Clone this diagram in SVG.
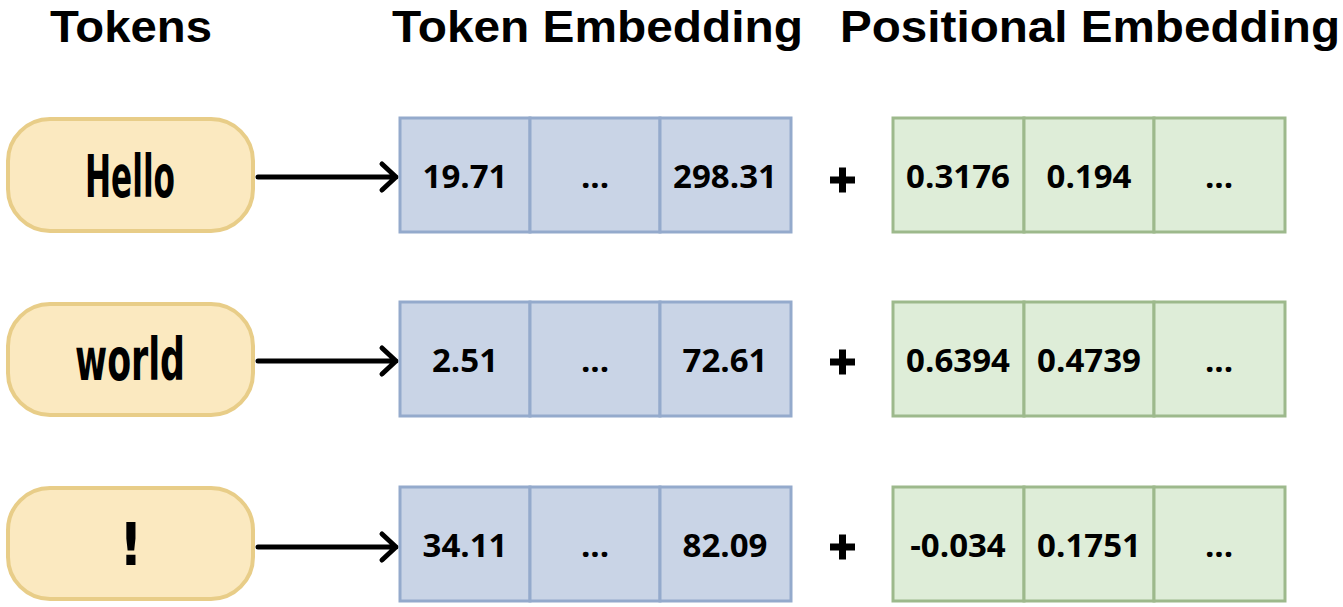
<svg xmlns="http://www.w3.org/2000/svg" width="1343" height="607" viewBox="0 0 1343 607">
<defs>
<style>
.hdr{font-family:"Liberation Sans",Arial,sans-serif;font-weight:700;font-size:44px;fill:#000}
.tok{fill:#fbe9c0;stroke:#e8cd88;stroke-width:4}
.tt{font-family:"DejaVu Sans Condensed","DejaVu Sans",sans-serif;font-weight:700;font-size:58px;fill:#000;text-anchor:middle}
.blue{fill:#c9d4e6;stroke:#94aacc;stroke-width:3}
.green{fill:#deedd8;stroke:#9db98c;stroke-width:3}
.num{font-family:"Open Sans","Liberation Sans",sans-serif;font-weight:700;font-size:33px;fill:#000;text-anchor:middle}
.conn{stroke:#000;stroke-width:5;fill:none;stroke-linecap:round;stroke-linejoin:round}
.plus{stroke:#000;stroke-width:7}
</style>
</defs>
<rect width="1343" height="607" fill="#fff"/>
<g id="headers">
<text class="hdr" x="50" y="42" textLength="162" lengthAdjust="spacingAndGlyphs">Tokens</text>
<text class="hdr" x="392" y="42" textLength="411" lengthAdjust="spacingAndGlyphs">Token Embedding</text>
<text class="hdr" x="840" y="42" textLength="500" lengthAdjust="spacingAndGlyphs">Positional Embedding</text>
</g>
<g id="token-hello">
<rect class="tok" x="8" y="119" width="245" height="112" rx="42"/>
<text class="tt" x="130" y="197" textLength="90" lengthAdjust="spacingAndGlyphs">Hello</text>
</g>
<g id="token-world">
<rect class="tok" x="8" y="304" width="245" height="111" rx="42"/>
<text class="tt" x="130" y="380" textLength="110" lengthAdjust="spacingAndGlyphs">world</text>
</g>
<g id="token-excl">
<rect class="tok" x="8" y="488" width="245" height="111" rx="42"/>
<text class="tt" x="131" y="565">!</text>
</g>
<g id="connectors">
<path class="conn" d="M258 177 H396 M382 164 L396 177 L382 190"/>
<path class="conn" d="M258 361 H396 M382 348 L396 361 L382 374"/>
<path class="conn" d="M258 547 H396 M382 534 L396 547 L382 560"/>
</g>
<g id="tokemb-1">
<rect class="blue" x="400" y="118" width="130" height="114"/>
<rect class="blue" x="530" y="118" width="130" height="114"/>
<rect class="blue" x="660" y="118" width="131" height="114"/>
<text class="num" x="465" y="188">19.71</text>
<text class="num" x="595" y="188">...</text>
<text class="num" x="725" y="188">298.31</text>
</g>
<g id="tokemb-2">
<rect class="blue" x="400" y="302" width="130" height="114"/>
<rect class="blue" x="530" y="302" width="130" height="114"/>
<rect class="blue" x="660" y="302" width="131" height="114"/>
<text class="num" x="465" y="372">2.51</text>
<text class="num" x="595" y="372">...</text>
<text class="num" x="725" y="372">72.61</text>
</g>
<g id="tokemb-3">
<rect class="blue" x="400" y="487" width="130" height="114"/>
<rect class="blue" x="530" y="487" width="130" height="114"/>
<rect class="blue" x="660" y="487" width="131" height="114"/>
<text class="num" x="465" y="557">34.11</text>
<text class="num" x="595" y="557">...</text>
<text class="num" x="725" y="557">82.09</text>
</g>
<g id="plus-signs">
<path class="plus" d="M830 180 H855 M842.5 167.5 V192.5"/>
<path class="plus" d="M830 362 H855 M842.5 349.5 V374.5"/>
<path class="plus" d="M830 547 H855 M842.5 534.5 V559.5"/>
</g>
<g id="posemb-1">
<rect class="green" x="893" y="118" width="131" height="114"/>
<rect class="green" x="1024" y="118" width="130" height="114"/>
<rect class="green" x="1154" y="118" width="131" height="114"/>
<text class="num" x="958" y="188">0.3176</text>
<text class="num" x="1089" y="188">0.194</text>
<text class="num" x="1219" y="188">...</text>
</g>
<g id="posemb-2">
<rect class="green" x="893" y="302" width="131" height="114"/>
<rect class="green" x="1024" y="302" width="130" height="114"/>
<rect class="green" x="1154" y="302" width="131" height="114"/>
<text class="num" x="958" y="372">0.6394</text>
<text class="num" x="1089" y="372">0.4739</text>
<text class="num" x="1219" y="372">...</text>
</g>
<g id="posemb-3">
<rect class="green" x="893" y="487" width="131" height="114"/>
<rect class="green" x="1024" y="487" width="130" height="114"/>
<rect class="green" x="1154" y="487" width="131" height="114"/>
<text class="num" x="958" y="557">-0.034</text>
<text class="num" x="1089" y="557">0.1751</text>
<text class="num" x="1219" y="557">...</text>
</g>
</svg>
